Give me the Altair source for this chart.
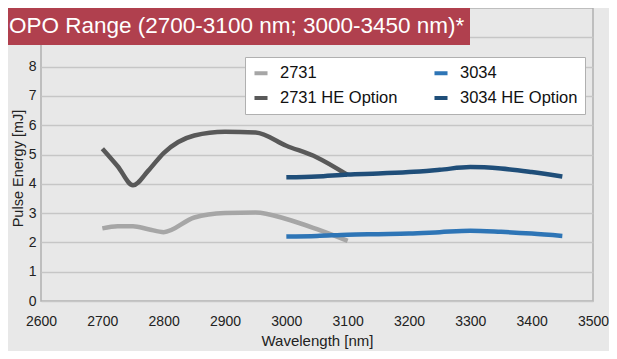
import altair as alt
import pandas as pd

title_text = "OPO Range (2700-3100 nm; 3000-3450 nm)*"

series_names = ["2731", "2731 HE Option", "3034", "3034 HE Option"]
series_colors = ["#a6a6a6", "#595959", "#2e75b6", "#1f4e79"]

wl_2731 = [2700, 2725, 2750, 2775, 2800, 2850, 2900, 2950, 3000, 3050, 3100]
e_2731 = [2.48, 2.55, 2.55, 2.45, 2.35, 2.85, 3.0, 3.02, 2.8, 2.45, 2.05]
e_2731_he = [5.2, 4.6, 3.95, 4.45, 5.05, 5.65, 5.78, 5.75, 5.3, 4.9, 4.3]

wl_3034 = [3000, 3050, 3100, 3150, 3200, 3250, 3300, 3350, 3400, 3450]
e_3034 = [2.2, 2.22, 2.26, 2.28, 2.3, 2.35, 2.4, 2.36, 2.3, 2.22]
e_3034_he = [4.22, 4.25, 4.32, 4.35, 4.4, 4.48, 4.57, 4.52, 4.4, 4.25]

x_ticks = [2600, 2700, 2800, 2900, 3000, 3100, 3200, 3300, 3400, 3500]
y_ticks = [0, 1, 2, 3, 4, 5, 6, 7, 8, 9]

rows = []
for name, wl, ev in [("2731", wl_2731, e_2731), ("2731 HE Option", wl_2731, e_2731_he),
                     ("3034", wl_3034, e_3034), ("3034 HE Option", wl_3034, e_3034_he)]:
    for w, e in zip(wl, ev):
        rows.append({"series": name, "wl": w, "energy": e})
df = pd.DataFrame(rows)

FONT = "Liberation Sans"

lines = alt.Chart(df).mark_line(strokeWidth=4.5, interpolate="monotone").encode(
    x=alt.X("wl:Q", scale=alt.Scale(domain=[2600, 3500], nice=False),
            axis=alt.Axis(values=x_ticks, title="Wavelength [nm]", grid=False, ticks=False,
                          domain=False, labelPadding=13, titlePadding=5, format="d",
                          labelFlush=False, labelBound=False,
                          labelFontSize=14, titleFontSize=15, labelColor="#222",
                          titleColor="#222", labelFont=FONT, titleFont=FONT,
                          titleFontWeight="normal")),
    y=alt.Y("energy:Q", scale=alt.Scale(domain=[0, 10], nice=False),
            axis=alt.Axis(values=y_ticks, title="Pulse Energy [mJ]", grid=True,
                          gridColor="#c6c6c6", gridWidth=1.5, ticks=False, domain=False,
                          labelPadding=5, labelFontSize=14, titleFontSize=14.5,
                          labelExpr="datum.value > 8 ? '' : datum.label",
                          labelColor="#222", titleColor="#222", labelFont=FONT,
                          titleFont=FONT, titleFontWeight="normal",
                          titleX=-23, titleY=160, titleAngle=270,
                          titleAlign="center", titleBaseline="middle")),
    color=alt.Color("series:N",
                    scale=alt.Scale(domain=series_names, range=series_colors),
                    legend=alt.Legend(title=None, orient="none", legendX=204, legendY=49,
                                      columns=2, fillColor="white", strokeColor="#b0b0b0",
                                      padding=7, symbolType="stroke", symbolStrokeWidth=4,
                                      symbolSize=170, labelFontSize=16.5, labelFont=FONT,
                                      labelColor="#111", rowPadding=7, columnPadding=28,
                                      labelOffset=10)),
    detail="series:N",
)

banner_df = pd.DataFrame({"t": [title_text]})
banner = alt.Chart(banner_df).mark_rect(color="#b0404e").encode(
    x=alt.value(-33), x2=alt.value(429), y=alt.value(0), y2=alt.value(37)
)
banner_text = alt.Chart(banner_df).mark_text(
    align="left", baseline="alphabetic", color="white", fontSize=22.5, font=FONT
).encode(x=alt.value(-32), y=alt.value(25), text="t:N")

chart = alt.layer(lines, banner, banner_text).properties(
    width=552, height=293,
    autosize=alt.AutoSizeParams(type="none"),
    padding={"left": 33, "top": 0, "right": 16, "bottom": 50},
    background="#e8e8e8",
).configure_view(stroke="#b0b0b0", strokeWidth=1.5, fill="#e8e8e8")

chart.save("out.html", embed_options={"renderer": "svg", "actions": False})
